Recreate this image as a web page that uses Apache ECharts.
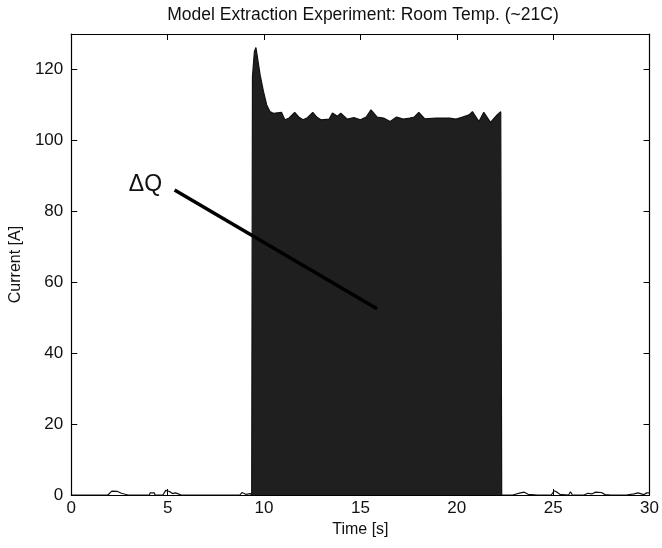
<!DOCTYPE html>
<html>
<head>
<meta charset="utf-8">
<script src="https://cdn.jsdelivr.net/npm/echarts@6/dist/echarts.min.js"></script>
<style>
html,body{margin:0;padding:0;background:#fff;}
#chart{width:662px;height:548px;}
</style>
</head>
<body>
<div id="chart"></div>
<script>
// ---- data (time [s], current [A]) ----
var leftBaseline = [[0,0],[0.4,0],[0.5,0.5],[0.6,0],[1.25,0],[1.35,0.5],[1.45,0],[1.9,0],[2.1,1.1],[2.4,1.0],[2.6,0.5],[2.8,0.2],[2.95,0],[3.05,0.5],[3.15,0],[4.05,0],[4.1,0.6],[4.3,0.6],[4.35,0],[4.75,0],[4.9,1.3],[5.0,0.8],[5.1,1.0],[5.25,0.4],[5.4,0.6],[5.55,0.3],[5.7,0],[6.2,0],[6.3,0.5],[6.4,0],[6.6,0],[6.7,0.5],[6.8,0],[7.05,0],[7.15,0.5],[7.25,0],[7.5,0],[7.6,0.5],[7.7,0],[7.9,0],[8.0,0.5],[8.1,0],[8.35,0],[8.45,0.5],[8.55,0],[8.75,0],[8.85,0.7],[8.95,0.6],[9.05,0.2],[9.15,0.5],[9.3,0.4],[9.36,0]];
var pulse = [[9.36,0],[9.40,118],[9.5,125],[9.58,126.2],[9.8,118.4],[9.97,113.8],[10.14,110],[10.31,108.1],[10.5,107.6],[10.7,107.8],[10.91,107.9],[11.08,105.8],[11.3,106.3],[11.59,107.9],[11.8,106.6],[12.02,105.8],[12.25,106.4],[12.53,107.9],[12.75,106.5],[12.95,105.8],[13.38,106],[13.55,107.7],[13.81,106.8],[13.98,107.7],[14.32,106],[14.66,106.4],[15.0,105.8],[15.3,106.6],[15.55,108.6],[15.86,106.6],[16.2,106.3],[16.54,105.3],[16.88,106.6],[17.22,106],[17.56,106.3],[17.8,106.6],[18.03,107.9],[18.33,106.1],[18.93,106.3],[19.62,106.3],[19.96,106],[20.3,106.6],[20.64,107.2],[20.81,108.1],[21.15,105.3],[21.4,107.9],[21.75,105.1],[22.09,107.2],[22.28,108.1],[22.33,0]];
var rightBaseline = [[22.33,0],[22.9,0],[23.3,0.6],[23.5,0.8],[23.7,0.2],[24.2,0],[24.3,0.5],[24.4,0],[24.9,0],[25.05,1.2],[25.2,0.8],[25.35,0.2],[25.8,0],[25.9,0.9],[26.0,0],[26.6,0],[26.8,0.5],[27.0,0.3],[27.2,0.8],[27.5,0.7],[27.7,0.1],[28.0,0],[28.05,0.5],[28.1,0],[28.8,0],[28.9,0.3],[29.2,0.3],[29.4,0.6],[29.7,0.1],[29.85,0.6],[30,0.6]];
var annotationLine = [[5.36,86],[15.86,52.5]];
var annotationLabelPos = [3.85,87.5];
var annotationText = 'ΔQ';
var xTicks = [0,5,10,15,20,25,30];
var yTicks = [0,20,40,60,80,100,120];
var titleText = 'Model Extraction Experiment: Room Temp. (~21C)';
var xName = 'Time [s]';
var yName = 'Current [A]';

var FONT = '"Liberation Sans", Arial, sans-serif';
var chart = echarts.init(document.getElementById('chart'), null, {renderer:'canvas'});
var tickStyle = {show:true, inside:true, length:6, lineStyle:{color:'#000', width:1}};
var lineAx = {show:true, onZero:false, lineStyle:{color:'#000', width:1.2}};
chart.setOption({
  animation:false,
  backgroundColor:'#fff',
  title:{text:titleText, left:358, textAlign:'center', top:1,
    textStyle:{fontFamily:FONT, fontSize:17.5, fontWeight:'normal', color:'#111'}},
  grid:{left:67, right:10, top:34, bottom:53},
  xAxis:[
    {type:'value', min:0, max:30, interval:5, position:'bottom',
     name:xName, nameLocation:'middle', nameGap:27,
     nameTextStyle:{fontFamily:FONT, fontSize:16, color:'#111'},
     axisLine:lineAx, axisTick:tickStyle, splitLine:{show:false},
     axisLabel:{fontFamily:FONT, fontSize:17, color:'#111', margin:5,
       formatter:function(v){return xTicks.indexOf(v)>=0?String(v):'';}}},
    {type:'value', min:0, max:30, interval:5, position:'top',
     axisLine:lineAx, axisTick:tickStyle, axisLabel:{show:false}, splitLine:{show:false}}
  ],
  yAxis:[
    {type:'value', min:0, max:130, interval:20, position:'left',
     name:yName, nameLocation:'middle', nameGap:40, nameRotate:90,
     nameTextStyle:{fontFamily:FONT, fontSize:16, color:'#111'},
     axisLine:lineAx, axisTick:tickStyle, splitLine:{show:false},
     axisLabel:{fontFamily:FONT, fontSize:17, color:'#111', margin:8, showMaxLabel:false,
       formatter:function(v){return yTicks.indexOf(v)>=0?String(v):'';}}},
    {type:'value', min:0, max:130, interval:20, position:'right',
     axisLine:lineAx, axisTick:tickStyle, axisLabel:{show:false}, splitLine:{show:false}}
  ],
  series:[
    {type:'line', data:leftBaseline, symbol:'none', lineStyle:{color:'#111', width:1.2}, z:3},
    {type:'line', data:pulse, symbol:'none', lineStyle:{color:'#111', width:1.2},
     areaStyle:{color:'#1f1f1f', opacity:1, origin:'start'}, z:2,
     markLine:{silent:true, symbol:['none','none'], animation:false,
       lineStyle:{color:'#000', width:3.5, type:'solid'}, label:{show:false},
       data:[[{coord:annotationLine[0]},{coord:annotationLine[1]}]]},
     markPoint:{silent:true, symbol:'circle', symbolSize:0,
       label:{show:true, position:'inside', formatter:annotationText,
         fontFamily:FONT, fontSize:23, color:'#111'},
       data:[{coord:annotationLabelPos}]}},
    {type:'line', data:rightBaseline, symbol:'none', lineStyle:{color:'#111', width:1.2}, z:3}
  ]
});
</script>
</body>
</html>
